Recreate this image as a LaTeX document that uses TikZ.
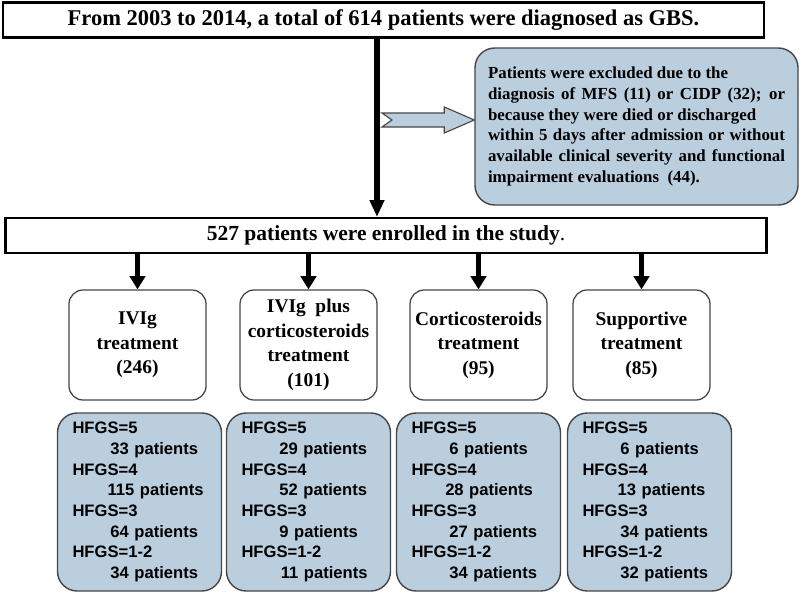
\documentclass[tikz,border=0pt]{standalone}
\usepackage{fontspec}
\setmainfont{Liberation Serif}
\setsansfont{Liberation Sans}
\usetikzlibrary{arrows.meta,calc}
\definecolor{gbsBlue}{RGB}{186,206,222}
\definecolor{gbsEdge}{RGB}{70,70,70}
\newcommand{\pxu}{0.025cm}

\begin{document}
\begin{tikzpicture}[
  x=0.025cm, y=-0.025cm,
  headbox/.style={draw=black, line width=1.6pt, minimum width=761*\pxu, minimum height=35*\pxu, inner sep=0pt},
  exclbox/.style={draw=gbsEdge, line width=1pt, rounded corners=14pt, fill=gbsBlue, minimum width=323*\pxu, minimum height=157*\pxu, inner sep=0pt, text width=297*\pxu, align=justify, font=\bfseries\fontsize{12}{14.7}\selectfont},
  armbox/.style={draw=gbsEdge, line width=0.9pt, rounded corners=10pt, fill=white, minimum width=137*\pxu, minimum height=110*\pxu, inner sep=0pt, align=center, font=\bfseries\fontsize{13.8}{17.5}\selectfont},
  gradebox/.style={draw=gbsEdge, line width=1pt, rounded corners=14pt, fill=gbsBlue, minimum width=164*\pxu, minimum height=178*\pxu, inner sep=0pt, text width=134*\pxu, align=left, font=\sffamily\bfseries\fontsize{11.8}{14.7}\selectfont},
  bigarr/.style={line width=3.9pt, -{Triangle[length=12pt,width=10pt]}},
  arr/.style={line width=3.4pt, -{Triangle[length=9.5pt,width=11pt]}},
]
\useasboundingbox (0,0) rectangle (800,592);
% header and enrolment
\node[headbox, font=\bfseries\fontsize{16}{19}\selectfont] (top) at (383.5,20) {From 2003 to 2014, a total of 614 patients were diagnosed as GBS.};
\node[headbox, font=\fontsize{15.3}{18}\selectfont] (enrol) at (386,235.5) {\textbf{527 patients were enrolled in the study}.};
% exclusion
\node[exclbox] (excl) at (636.5,126.5) {Patients were excluded due to the\\
diagnosis of MFS (11) or CIDP (32); or\linebreak
because they were died or discharged\\
within 5 days after admission or without\linebreak
available clinical severity and functional\linebreak
impairment evaluations~ (44).};
\coordinate (split) at (377,120);
\draw[bigarr] (top.south -| split) -- (enrol.north -| split);
\coordinate (tip) at (split -| excl.west);
\draw[draw=gbsEdge, fill=gbsBlue, line width=0.8pt]
  ($(split)+(5,-7)$) -- ($(split)+(15,0)$) -- ($(split)+(5,7)$) -- ($(tip)+(-30,7)$)
  -- ($(tip)+(-30,13)$) -- (tip) -- ($(tip)+(-30,-13)$) -- ($(tip)+(-30,-7)$) -- cycle;
% treatment arms
\node[armbox] (arm1) at (137.5,345) {IVIg\\treatment\\(246)};
\node[armbox] (arm2) at (308.5,345) {IVIg~ plus\\corticosteroids\\treatment\\(101)};
\node[armbox] (arm3) at (478.5,345) {Corticosteroids\\treatment\\(95)};
\node[armbox] (arm4) at (641.5,345) {Supportive\\treatment\\(85)};
\foreach \i in {1,...,4}
  \draw[arr] (enrol.south -| arm\i.north) -- (arm\i.north);
% HFGS counts
\node[gradebox] (grade1) at (139.5,502) {HFGS=5\\\hspace*{27pt}33 patients\\HFGS=4\\\hspace*{25pt}115 patients\\HFGS=3\\\hspace*{27pt}64 patients\\HFGS=1-2\\\hspace*{27pt}34 patients};
\node[gradebox] (grade2) at (308.5,502) {HFGS=5\\\hspace*{27pt}29 patients\\HFGS=4\\\hspace*{27pt}52 patients\\HFGS=3\\\hspace*{27pt}9 patients\\HFGS=1-2\\\hspace*{28pt}11 patients};
\node[gradebox] (grade3) at (478.5,502) {HFGS=5\\\hspace*{27pt}6 patients\\HFGS=4\\\hspace*{24pt}28 patients\\HFGS=3\\\hspace*{27pt}27 patients\\HFGS=1-2\\\hspace*{27pt}34 patients};
\node[gradebox] (grade4) at (649.5,502) {HFGS=5\\\hspace*{27pt}6 patients\\HFGS=4\\\hspace*{25pt}13 patients\\HFGS=3\\\hspace*{27pt}34 patients\\HFGS=1-2\\\hspace*{27pt}32 patients};
\end{tikzpicture}
\end{document}
